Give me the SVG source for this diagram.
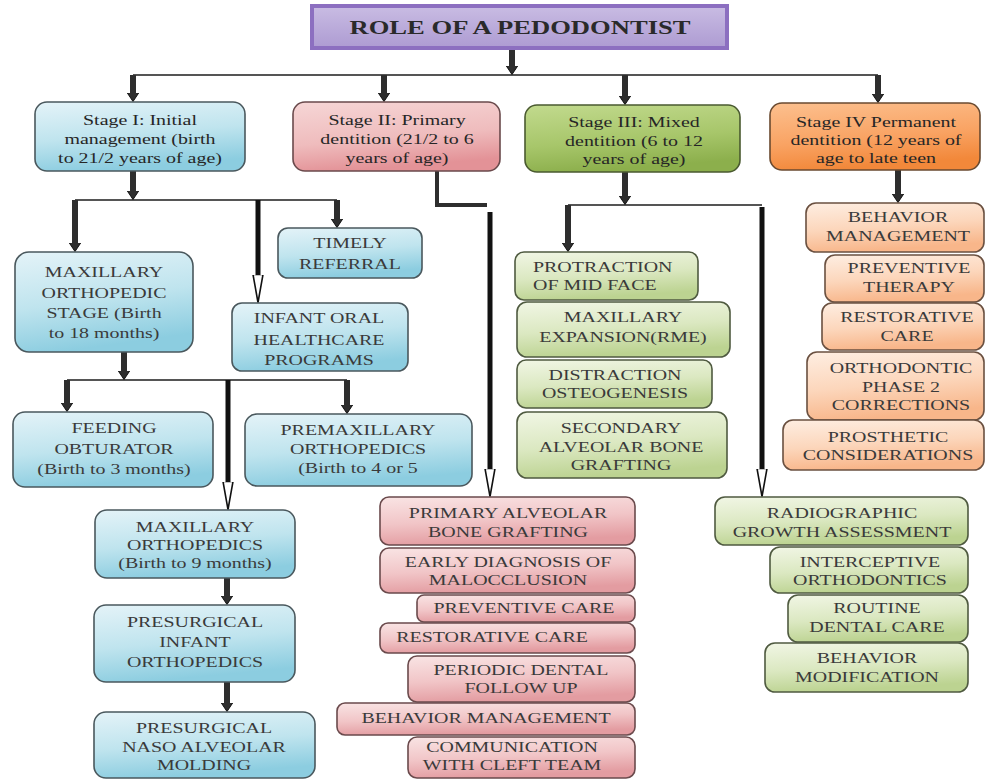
<svg xmlns="http://www.w3.org/2000/svg" width="987" height="780" viewBox="0 0 987 780">
<defs>
<linearGradient id="gBlue" x1="0" y1="0" x2="0.25" y2="1"><stop offset="0" stop-color="#e4f3f8"/><stop offset="0.55" stop-color="#bfe4ee"/><stop offset="1" stop-color="#8ccde0"/></linearGradient>
<linearGradient id="gPink" x1="0" y1="0" x2="0.25" y2="1"><stop offset="0" stop-color="#f9e4e4"/><stop offset="0.55" stop-color="#f1c5c7"/><stop offset="1" stop-color="#e39ca1"/></linearGradient>
<linearGradient id="gPinkS" x1="0" y1="0" x2="0.25" y2="1"><stop offset="0" stop-color="#f6d6d6"/><stop offset="0.6" stop-color="#efbcbd"/><stop offset="1" stop-color="#e39297"/></linearGradient>
<linearGradient id="gGreen" x1="0" y1="0" x2="0.25" y2="1"><stop offset="0" stop-color="#f1f6e5"/><stop offset="0.55" stop-color="#dbe8c1"/><stop offset="1" stop-color="#bcd391"/></linearGradient>
<linearGradient id="gGreenS" x1="0" y1="0" x2="0.25" y2="1"><stop offset="0" stop-color="#c2da8e"/><stop offset="0.6" stop-color="#a7c66a"/><stop offset="1" stop-color="#8caf4c"/></linearGradient>
<linearGradient id="gOrange" x1="0" y1="0" x2="0.25" y2="1"><stop offset="0" stop-color="#feeee2"/><stop offset="0.55" stop-color="#fcd6bb"/><stop offset="1" stop-color="#f8b68a"/></linearGradient>
<linearGradient id="gOrangeS" x1="0" y1="0" x2="0.25" y2="1"><stop offset="0" stop-color="#fcc08f"/><stop offset="0.6" stop-color="#f9a363"/><stop offset="1" stop-color="#f2883a"/></linearGradient>
<linearGradient id="gTitle" x1="0" y1="0" x2="0" y2="1"><stop offset="0" stop-color="#c9bce3"/><stop offset="1" stop-color="#ad9bd2"/></linearGradient>
<marker id="ah" viewBox="0 0 9 12" refX="0.5" refY="6" markerWidth="9" markerHeight="12" markerUnits="userSpaceOnUse" orient="auto"><path d="M0,0 L9,6 L0,12 z" fill="#2e2e2e" stroke="#111" stroke-width="1"/></marker>
<marker id="ho" viewBox="0 0 28 12" refX="0.5" refY="6" markerWidth="28" markerHeight="12" markerUnits="userSpaceOnUse" orient="auto"><path d="M0,1 L28,6 L0,11 z" fill="#ffffff" stroke="#111" stroke-width="1.6"/></marker>
</defs>
<style>
.bl{fill:url(#gBlue);stroke:#4a585d;stroke-width:1.6}
.pk{fill:url(#gPink);stroke:#6a4a4c;stroke-width:1.6}
.pks{fill:url(#gPinkS);stroke:#6a4a4c;stroke-width:1.6}
.gr{fill:url(#gGreen);stroke:#4f5a40;stroke-width:1.6}
.grs{fill:url(#gGreenS);stroke:#4a5a30;stroke-width:1.6}
.or{fill:url(#gOrange);stroke:#6a5040;stroke-width:1.6}
.ors{fill:url(#gOrangeS);stroke:#6a4a30;stroke-width:1.6}
.t{font-family:"Liberation Serif","Times New Roman",serif;font-size:15px;fill:#3a3a3a;text-anchor:middle}
.s{font-family:"Liberation Serif","Times New Roman",serif;font-size:15px;fill:#262626;text-anchor:middle}
.ttl{font-family:"Liberation Serif","Times New Roman",serif;font-size:19px;font-weight:bold;fill:#2a2a2a;text-anchor:middle}
.th{stroke:#2e2e2e;stroke-width:6;fill:none;marker-end:url(#ah)}
.hl{stroke:#111;stroke-width:5;fill:none;marker-end:url(#ho)}
.ln{stroke:#555;stroke-width:2;fill:none}
</style>
<rect width="987" height="780" fill="#ffffff"/>

<g id="connectors">
<line class="ln" x1="133" y1="75" x2="878" y2="75"/>
<line class="ln" x1="75" y1="200" x2="337" y2="200"/>
<line class="ln" x1="67" y1="380" x2="347" y2="380"/>
<line class="ln" x1="568" y1="205" x2="762" y2="205"/>
<line class="th" x1="512" y1="48" x2="512" y2="66"/>
<line class="th" x1="133" y1="75" x2="133" y2="93"/>
<line class="th" x1="384" y1="75" x2="384" y2="93"/>
<line class="th" x1="625" y1="75" x2="625" y2="96"/>
<line class="th" x1="878" y1="75" x2="878" y2="94"/>
<line class="th" x1="133" y1="171" x2="133" y2="191"/>
<line class="th" x1="75" y1="200" x2="75" y2="243"/>
<line class="th" x1="337" y1="200" x2="337" y2="219"/>
<polyline points="437,171 437,205 487,205" fill="none" stroke="#2e2e2e" stroke-width="4"/>
<line class="th" x1="625" y1="172" x2="625" y2="196"/>
<line class="th" x1="568" y1="205" x2="568" y2="243"/>
<line class="th" x1="898" y1="170" x2="898" y2="194"/>
<line class="th" x1="124" y1="352" x2="124" y2="371"/>
<line class="th" x1="67" y1="380" x2="67" y2="403"/>
<line class="th" x1="347" y1="380" x2="347" y2="405"/>
<line class="th" x1="227" y1="578" x2="227" y2="596"/>
<line class="th" x1="227" y1="682" x2="227" y2="703"/>
<line class="hl" x1="258" y1="200" x2="258" y2="275"/>
<line class="hl" x1="490" y1="212" x2="490" y2="469"/>
<line class="hl" x1="762" y1="207" x2="762" y2="469"/>
<line class="hl" x1="228" y1="380" x2="228" y2="482"/>
</g>

<g id="title">
<rect x="312" y="6" width="415" height="42" fill="url(#gTitle)" stroke="#8c6fc0" stroke-width="4"/>
<text class="ttl" transform="matrix(1.4 0 0 1 520 0)"><tspan x="0" y="34">ROLE OF A PEDODONTIST</tspan></text>
</g>

<g id="stage1">
<rect class="bl" x="35" y="102" width="210" height="69" rx="12"/>
<text class="s" transform="matrix(1.33 0 0 1 140 0)"><tspan x="0" y="125">Stage I: Initial</tspan><tspan x="0" y="144">management (birth</tspan><tspan x="0" y="163">to 21/2 years of age)</tspan></text>
</g>
<g id="stage2">
<rect class="pks" x="293" y="102" width="207" height="69" rx="12"/>
<text class="s" transform="matrix(1.33 0 0 1 397 0)"><tspan x="0" y="125">Stage II: Primary</tspan><tspan x="0" y="144">dentition (21/2 to 6</tspan><tspan x="0" y="163">years of age)</tspan></text>
</g>
<g id="stage3">
<rect class="grs" x="525" y="105" width="215" height="67" rx="12"/>
<text class="s" transform="matrix(1.33 0 0 1 634 0)"><tspan x="0" y="127">Stage III: Mixed</tspan><tspan x="0" y="146">dentition (6 to 12</tspan><tspan x="0" y="164">years of age)</tspan></text>
</g>
<g id="stage4">
<rect class="ors" x="770" y="103" width="210" height="67" rx="12"/>
<text class="s" transform="matrix(1.33 0 0 1 876 0)"><tspan x="0" y="127">Stage IV Permanent</tspan><tspan x="0" y="145">dentition (12 years of</tspan><tspan x="0" y="163">age to late teen</tspan></text>
</g>

<g id="timely-referral">
<rect class="bl" x="278" y="228" width="144" height="50" rx="10"/>
<text class="t" transform="matrix(1.33 0 0 1 350 0)"><tspan x="0" y="248">TIMELY</tspan><tspan x="0" y="269">REFERRAL</tspan></text>
</g>
<g id="maxillary-orthopedic-stage">
<rect class="bl" x="15" y="252" width="178" height="100" rx="14"/>
<text class="t" transform="matrix(1.33 0 0 1 104 0)"><tspan x="0" y="277">MAXILLARY</tspan><tspan x="0" y="298">ORTHOPEDIC</tspan><tspan x="0" y="318">STAGE (Birth</tspan><tspan x="0" y="338">to 18 months)</tspan></text>
</g>
<g id="infant-oral">
<rect class="bl" x="232" y="303" width="176" height="68" rx="10"/>
<text class="t" transform="matrix(1.33 0 0 1 319 0)"><tspan x="0" y="323">INFANT ORAL</tspan><tspan x="0" y="345">HEALTHCARE</tspan><tspan x="0" y="365">PROGRAMS</tspan></text>
</g>
<g id="feeding-obturator">
<rect class="bl" x="13" y="412" width="200" height="75" rx="12"/>
<text class="t" transform="matrix(1.33 0 0 1 114 0)"><tspan x="0" y="433">FEEDING</tspan><tspan x="0" y="454">OBTURATOR</tspan><tspan x="0" y="474">(Birth to 3 months)</tspan></text>
</g>
<g id="premaxillary">
<rect class="bl" x="245" y="414" width="227" height="72" rx="12"/>
<text class="t" transform="matrix(1.33 0 0 1 358 0)"><tspan x="0" y="435">PREMAXILLARY</tspan><tspan x="0" y="454">ORTHOPEDICS</tspan><tspan x="0" y="473">(Birth to 4 or 5</tspan></text>
</g>
<g id="maxillary-orthopedics">
<rect class="bl" x="95" y="510" width="200" height="68" rx="12"/>
<text class="t" transform="matrix(1.33 0 0 1 195 0)"><tspan x="0" y="532">MAXILLARY</tspan><tspan x="0" y="550">ORTHOPEDICS</tspan><tspan x="0" y="568">(Birth to 9 months)</tspan></text>
</g>
<g id="presurgical-infant">
<rect class="bl" x="94" y="605" width="201" height="77" rx="12"/>
<text class="t" transform="matrix(1.33 0 0 1 195 0)"><tspan x="0" y="627">PRESURGICAL</tspan><tspan x="0" y="647">INFANT</tspan><tspan x="0" y="667">ORTHOPEDICS</tspan></text>
</g>
<g id="presurgical-naso">
<rect class="bl" x="94" y="712" width="221" height="66" rx="12"/>
<text class="t" transform="matrix(1.33 0 0 1 204 0)"><tspan x="0" y="733">PRESURGICAL</tspan><tspan x="0" y="752">NASO ALVEOLAR</tspan><tspan x="0" y="770">MOLDING</tspan></text>
</g>

<g id="primary-alveolar">
<rect class="pk" x="380" y="497" width="255" height="48" rx="9"/>
<text class="t" transform="matrix(1.33 0 0 1 508 0)"><tspan x="0" y="518">PRIMARY ALVEOLAR</tspan><tspan x="0" y="537">BONE GRAFTING</tspan></text>
</g>
<g id="early-diagnosis">
<rect class="pk" x="380" y="548" width="255" height="45" rx="9"/>
<text class="t" transform="matrix(1.33 0 0 1 508 0)"><tspan x="0" y="567">EARLY DIAGNOSIS OF</tspan><tspan x="0" y="585">MALOCCLUSION</tspan></text>
</g>
<g id="preventive-care">
<rect class="pk" x="417" y="595" width="218" height="27" rx="7"/>
<text class="t" transform="matrix(1.33 0 0 1 524 0)"><tspan x="0" y="613">PREVENTIVE CARE</tspan></text>
</g>
<g id="restorative-care">
<rect class="pk" x="380" y="623" width="255" height="30" rx="8"/>
<text class="t" transform="matrix(1.33 0 0 1 492 0)"><tspan x="0" y="642">RESTORATIVE CARE</tspan></text>
</g>
<g id="periodic-dental">
<rect class="pk" x="408" y="656" width="227" height="46" rx="9"/>
<text class="t" transform="matrix(1.33 0 0 1 521 0)"><tspan x="0" y="675">PERIODIC DENTAL</tspan><tspan x="0" y="693">FOLLOW UP</tspan></text>
</g>
<g id="behavior-management-pink">
<rect class="pk" x="337" y="703" width="298" height="32" rx="8"/>
<text class="t" transform="matrix(1.33 0 0 1 486 0)"><tspan x="0" y="723">BEHAVIOR MANAGEMENT</tspan></text>
</g>
<g id="communication">
<rect class="pk" x="408" y="737" width="227" height="41" rx="9"/>
<text class="t" transform="matrix(1.33 0 0 1 512 0)"><tspan x="0" y="752">COMMUNICATION</tspan><tspan x="0" y="770">WITH CLEFT TEAM</tspan></text>
</g>

<g id="protraction">
<rect class="gr" x="515" y="252" width="183" height="48" rx="9"/>
<text class="t" style="text-anchor:start" transform="matrix(1.33 0 0 1 533 0)"><tspan x="0" y="272">PROTRACTION</tspan><tspan x="0" y="290">OF MID FACE</tspan></text>
</g>
<g id="maxillary-expansion">
<rect class="gr" x="517" y="302" width="213" height="55" rx="10"/>
<text class="t" transform="matrix(1.33 0 0 1 623 0)"><tspan x="0" y="322">MAXILLARY</tspan><tspan x="0" y="342">EXPANSION(RME)</tspan></text>
</g>
<g id="distraction">
<rect class="gr" x="517" y="360" width="195" height="48" rx="9"/>
<text class="t" transform="matrix(1.33 0 0 1 615 0)"><tspan x="0" y="380">DISTRACTION</tspan><tspan x="0" y="398">OSTEOGENESIS</tspan></text>
</g>
<g id="secondary-alveolar">
<rect class="gr" x="517" y="412" width="210" height="66" rx="10"/>
<text class="t" transform="matrix(1.33 0 0 1 621 0)"><tspan x="0" y="433">SECONDARY</tspan><tspan x="0" y="452">ALVEOLAR BONE</tspan><tspan x="0" y="470">GRAFTING</tspan></text>
</g>

<g id="behavior-management-orange">
<rect class="or" x="806" y="203" width="178" height="49" rx="10"/>
<text class="t" transform="matrix(1.33 0 0 1 898 0)"><tspan x="0" y="222">BEHAVIOR</tspan><tspan x="0" y="241">MANAGEMENT</tspan></text>
</g>
<g id="preventive-therapy">
<rect class="or" x="825" y="255" width="159" height="47" rx="10"/>
<text class="t" transform="matrix(1.33 0 0 1 909 0)"><tspan x="0" y="273">PREVENTIVE</tspan><tspan x="0" y="292">THERAPY</tspan></text>
</g>
<g id="restorative-orange">
<rect class="or" x="822" y="303" width="162" height="47" rx="10"/>
<text class="t" transform="matrix(1.33 0 0 1 907 0)"><tspan x="0" y="322">RESTORATIVE</tspan><tspan x="0" y="341">CARE</tspan></text>
</g>
<g id="orthodontic-phase2">
<rect class="or" x="807" y="352" width="177" height="68" rx="10"/>
<text class="t" transform="matrix(1.33 0 0 1 901 0)"><tspan x="0" y="373">ORTHODONTIC</tspan><tspan x="0" y="392">PHASE 2</tspan><tspan x="0" y="410">CORRECTIONS</tspan></text>
</g>
<g id="prosthetic">
<rect class="or" x="783" y="420" width="201" height="50" rx="10"/>
<text class="t" transform="matrix(1.33 0 0 1 888 0)"><tspan x="0" y="442">PROSTHETIC</tspan><tspan x="0" y="460">CONSIDERATIONS</tspan></text>
</g>

<g id="radiographic">
<rect class="gr" x="715" y="497" width="253" height="48" rx="10"/>
<text class="t" transform="matrix(1.33 0 0 1 842 0)"><tspan x="0" y="518">RADIOGRAPHIC</tspan><tspan x="0" y="537">GROWTH ASSESSMENT</tspan></text>
</g>
<g id="interceptive">
<rect class="gr" x="770" y="547" width="198" height="46" rx="10"/>
<text class="t" transform="matrix(1.33 0 0 1 870 0)"><tspan x="0" y="567">INTERCEPTIVE</tspan><tspan x="0" y="585">ORTHODONTICS</tspan></text>
</g>
<g id="routine-dental">
<rect class="gr" x="788" y="595" width="180" height="47" rx="10"/>
<text class="t" transform="matrix(1.33 0 0 1 877 0)"><tspan x="0" y="613">ROUTINE</tspan><tspan x="0" y="632">DENTAL CARE</tspan></text>
</g>
<g id="behavior-modification">
<rect class="gr" x="765" y="643" width="203" height="49" rx="10"/>
<text class="t" transform="matrix(1.33 0 0 1 867 0)"><tspan x="0" y="663">BEHAVIOR</tspan><tspan x="0" y="682">MODIFICATION</tspan></text>
</g>
</svg>
